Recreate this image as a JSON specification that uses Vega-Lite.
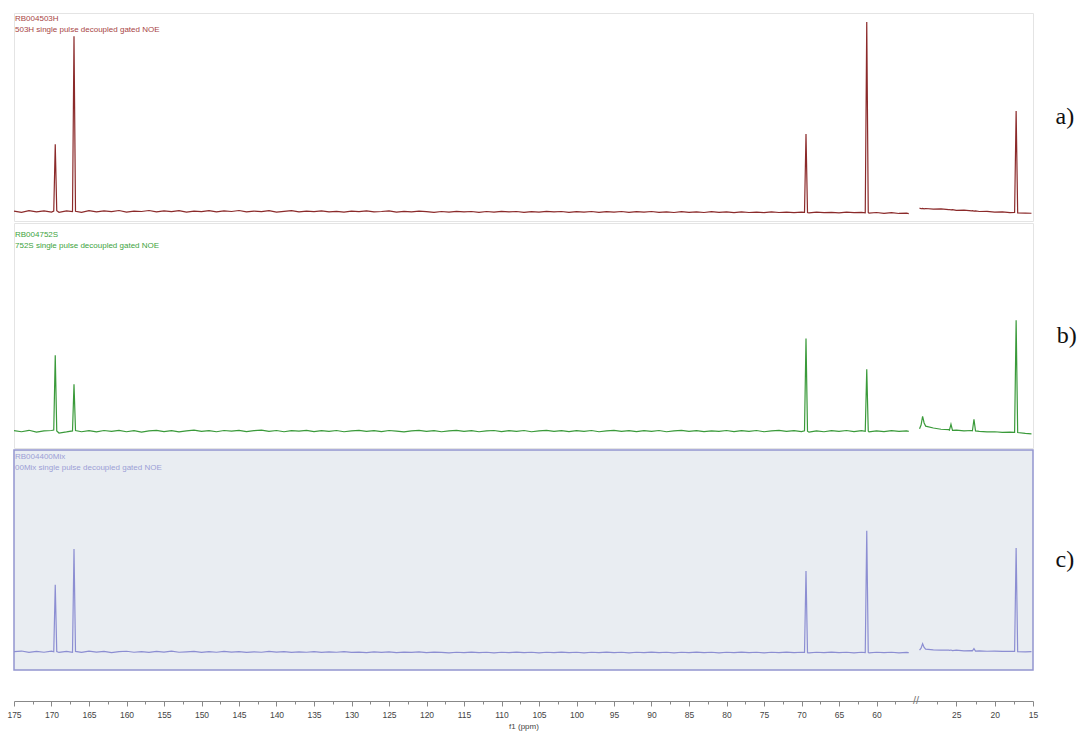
{
  "$schema": "https://vega.github.io/schema/vega-lite/v6.json",
  "background": "white",
  "padding": {"left": 6, "top": 12, "right": 2, "bottom": 2},
  "spacing": 0,
  "config": {"view": {"stroke": null}, "font": "Liberation Sans"},
  "datasets": {
    "nmr": [
      {"p":175,"a":0.0,"b":0.3,"c":0.1,"g":"L"},
      {"p":174,"a":-0.6,"b":-0.2,"c":0.4,"g":"L"},
      {"p":173,"a":0.2,"b":0.5,"c":-0.3,"g":"L"},
      {"p":172,"a":-0.4,"b":-0.4,"c":0.2,"g":"L"},
      {"p":171,"a":0.1,"b":0.2,"c":-0.2,"g":"L"},
      {"p":170,"a":-0.5,"b":0.4,"c":0.3,"g":"L"},
      {"p":169.7,"a":0.0,"b":0.6,"c":0.0,"g":"L"},
      {"p":169.5,"a":33.8,"b":36.5,"c":33.2,"g":"L"},
      {"p":169.3,"a":0.2,"b":0.2,"c":0.1,"g":"L"},
      {"p":169,"a":-0.6,"b":-0.8,"c":-0.3,"g":"L"},
      {"p":168,"a":0.1,"b":-0.3,"c":0.2,"g":"L"},
      {"p":167.2,"a":-0.3,"b":0.2,"c":-0.2,"g":"L"},
      {"p":167,"a":88.3,"b":22.6,"c":51.0,"g":"L"},
      {"p":166.8,"a":-0.1,"b":0.4,"c":0.2,"g":"L"},
      {"p":166,"a":-0.6,"b":-0.2,"c":-0.3,"g":"L"},
      {"p":165,"a":0.2,"b":0.3,"c":0.3,"g":"L"},
      {"p":164,"a":-0.4,"b":-0.3,"c":-0.1,"g":"L"},
      {"p":163,"a":0.1,"b":0.4,"c":0.2,"g":"L"},
      {"p":162,"a":-0.3,"b":0.0,"c":-0.4,"g":"L"},
      {"p":161,"a":0.3,"b":0.5,"c":0.1,"g":"L"},
      {"p":160,"a":-0.5,"b":-0.2,"c":0.3,"g":"L"},
      {"p":159,"a":0.0,"b":0.3,"c":-0.2,"g":"L"},
      {"p":158,"a":-0.2,"b":-0.4,"c":0.1,"g":"L"},
      {"p":157,"a":0.3,"b":0.2,"c":-0.3,"g":"L"},
      {"p":156,"a":-0.4,"b":0.5,"c":0.2,"g":"L"},
      {"p":155,"a":0.1,"b":-0.1,"c":-0.1,"g":"L"},
      {"p":154,"a":-0.3,"b":0.3,"c":0.3,"g":"L"},
      {"p":153,"a":0.2,"b":-0.3,"c":-0.2,"g":"L"},
      {"p":152,"a":-0.5,"b":0.2,"c":0.0,"g":"L"},
      {"p":151,"a":0.0,"b":0.6,"c":0.2,"g":"L"},
      {"p":150,"a":-0.3,"b":0.0,"c":-0.3,"g":"L"},
      {"p":149,"a":0.2,"b":0.3,"c":0.1,"g":"L"},
      {"p":148,"a":-0.4,"b":-0.2,"c":-0.2,"g":"L"},
      {"p":147,"a":0.1,"b":0.4,"c":0.2,"g":"L"},
      {"p":146,"a":-0.2,"b":0.1,"c":-0.1,"g":"L"},
      {"p":145,"a":0.3,"b":0.5,"c":0.1,"g":"L"},
      {"p":144,"a":-0.4,"b":-0.1,"c":-0.3,"g":"L"},
      {"p":143,"a":0.0,"b":0.3,"c":0.0,"g":"L"},
      {"p":142,"a":-0.3,"b":0.6,"c":-0.2,"g":"L"},
      {"p":141,"a":0.2,"b":0.0,"c":0.2,"g":"L"},
      {"p":140,"a":-0.5,"b":0.4,"c":-0.1,"g":"L"},
      {"p":139,"a":-0.1,"b":-0.2,"c":0.1,"g":"L"},
      {"p":138,"a":0.2,"b":0.3,"c":-0.3,"g":"L"},
      {"p":137,"a":-0.4,"b":0.1,"c":0.0,"g":"L"},
      {"p":136,"a":0.0,"b":0.5,"c":-0.2,"g":"L"},
      {"p":135,"a":-0.3,"b":-0.1,"c":0.1,"g":"L"},
      {"p":134,"a":0.1,"b":0.3,"c":-0.3,"g":"L"},
      {"p":133,"a":-0.4,"b":0.0,"c":0.0,"g":"L"},
      {"p":132,"a":-0.1,"b":0.4,"c":-0.2,"g":"L"},
      {"p":131,"a":-0.5,"b":-0.2,"c":0.1,"g":"L"},
      {"p":130,"a":0.0,"b":0.2,"c":-0.3,"g":"L"},
      {"p":129,"a":-0.3,"b":0.5,"c":-0.1,"g":"L"},
      {"p":128,"a":0.1,"b":0.0,"c":-0.4,"g":"L"},
      {"p":127,"a":-0.4,"b":0.3,"c":0.0,"g":"L"},
      {"p":126,"a":-0.2,"b":-0.1,"c":-0.3,"g":"L"},
      {"p":125,"a":0.1,"b":0.4,"c":0.0,"g":"L"},
      {"p":124,"a":-0.5,"b":0.1,"c":-0.4,"g":"L"},
      {"p":123,"a":-0.1,"b":-0.3,"c":-0.1,"g":"L"},
      {"p":122,"a":-0.4,"b":0.2,"c":-0.3,"g":"L"},
      {"p":121,"a":0.0,"b":0.5,"c":0.0,"g":"L"},
      {"p":120,"a":-0.3,"b":0.0,"c":-0.4,"g":"L"},
      {"p":119,"a":-0.6,"b":0.3,"c":-0.1,"g":"L"},
      {"p":118,"a":-0.2,"b":-0.2,"c":-0.3,"g":"L"},
      {"p":117,"a":-0.5,"b":0.2,"c":-0.5,"g":"L"},
      {"p":116,"a":-0.1,"b":0.5,"c":-0.2,"g":"L"},
      {"p":115,"a":-0.4,"b":0.0,"c":-0.4,"g":"L"},
      {"p":114,"a":-0.2,"b":0.3,"c":-0.1,"g":"L"},
      {"p":113,"a":-0.6,"b":-0.2,"c":-0.4,"g":"L"},
      {"p":112,"a":-0.2,"b":0.2,"c":-0.2,"g":"L"},
      {"p":111,"a":-0.5,"b":0.4,"c":-0.5,"g":"L"},
      {"p":110,"a":-0.1,"b":-0.1,"c":-0.2,"g":"L"},
      {"p":109,"a":-0.4,"b":0.3,"c":-0.4,"g":"L"},
      {"p":108,"a":-0.2,"b":0.0,"c":-0.1,"g":"L"},
      {"p":107,"a":-0.6,"b":0.4,"c":-0.4,"g":"L"},
      {"p":106,"a":-0.3,"b":-0.2,"c":-0.2,"g":"L"},
      {"p":105,"a":-0.5,"b":0.2,"c":-0.5,"g":"L"},
      {"p":104,"a":-0.1,"b":0.5,"c":-0.2,"g":"L"},
      {"p":103,"a":-0.4,"b":0.0,"c":-0.4,"g":"L"},
      {"p":102,"a":-0.2,"b":0.3,"c":-0.1,"g":"L"},
      {"p":101,"a":-0.6,"b":-0.1,"c":-0.4,"g":"L"},
      {"p":100,"a":-0.3,"b":0.3,"c":-0.2,"g":"L"},
      {"p":99,"a":-0.5,"b":0.0,"c":-0.5,"g":"L"},
      {"p":98,"a":-0.2,"b":0.4,"c":-0.2,"g":"L"},
      {"p":97,"a":-0.6,"b":-0.2,"c":-0.4,"g":"L"},
      {"p":96,"a":-0.3,"b":0.2,"c":-0.1,"g":"L"},
      {"p":95,"a":-0.5,"b":0.5,"c":-0.4,"g":"L"},
      {"p":94,"a":-0.2,"b":0.0,"c":-0.2,"g":"L"},
      {"p":93,"a":-0.6,"b":0.3,"c":-0.5,"g":"L"},
      {"p":92,"a":-0.3,"b":-0.1,"c":-0.2,"g":"L"},
      {"p":91,"a":-0.5,"b":0.3,"c":-0.4,"g":"L"},
      {"p":90,"a":-0.2,"b":0.0,"c":-0.1,"g":"L"},
      {"p":89,"a":-0.6,"b":0.4,"c":-0.4,"g":"L"},
      {"p":88,"a":-0.4,"b":-0.2,"c":-0.2,"g":"L"},
      {"p":87,"a":-0.7,"b":0.2,"c":-0.5,"g":"L"},
      {"p":86,"a":-0.3,"b":0.5,"c":-0.2,"g":"L"},
      {"p":85,"a":-0.6,"b":0.0,"c":-0.4,"g":"L"},
      {"p":84,"a":-0.4,"b":0.3,"c":-0.1,"g":"L"},
      {"p":83,"a":-0.7,"b":-0.1,"c":-0.4,"g":"L"},
      {"p":82,"a":-0.3,"b":0.2,"c":-0.2,"g":"L"},
      {"p":81,"a":-0.6,"b":0.0,"c":-0.5,"g":"L"},
      {"p":80,"a":-0.4,"b":0.4,"c":-0.2,"g":"L"},
      {"p":79,"a":-0.8,"b":-0.1,"c":-0.4,"g":"L"},
      {"p":78,"a":-0.4,"b":0.3,"c":-0.1,"g":"L"},
      {"p":77,"a":-0.7,"b":0.0,"c":-0.4,"g":"L"},
      {"p":76,"a":-0.5,"b":0.4,"c":-0.2,"g":"L"},
      {"p":75,"a":-0.8,"b":-0.2,"c":-0.5,"g":"L"},
      {"p":74,"a":-0.4,"b":0.2,"c":-0.2,"g":"L"},
      {"p":73,"a":-0.7,"b":0.5,"c":-0.4,"g":"L"},
      {"p":72,"a":-0.5,"b":0.0,"c":-0.1,"g":"L"},
      {"p":71,"a":-0.8,"b":0.3,"c":-0.4,"g":"L"},
      {"p":70,"a":-0.5,"b":-0.1,"c":-0.2,"g":"L"},
      {"p":69.6,"a":-0.6,"b":0.3,"c":-0.3,"g":"L"},
      {"p":69.4,"a":38.9,"b":44.6,"c":40.0,"g":"L"},
      {"p":69.2,"a":-0.7,"b":0.1,"c":-0.4,"g":"L"},
      {"p":69,"a":-0.9,"b":-0.4,"c":-0.5,"g":"L"},
      {"p":68,"a":-0.5,"b":0.2,"c":-0.2,"g":"L"},
      {"p":67,"a":-0.8,"b":-0.2,"c":-0.4,"g":"L"},
      {"p":66,"a":-0.6,"b":0.3,"c":-0.1,"g":"L"},
      {"p":65,"a":-0.9,"b":0.0,"c":-0.4,"g":"L"},
      {"p":64,"a":-0.5,"b":0.4,"c":-0.2,"g":"L"},
      {"p":63,"a":-0.8,"b":-0.1,"c":-0.5,"g":"L"},
      {"p":62,"a":-0.6,"b":0.3,"c":-0.2,"g":"L"},
      {"p":61.5,"a":-0.9,"b":0.0,"c":-0.4,"g":"L"},
      {"p":61.3,"a":95.4,"b":29.8,"c":60.0,"g":"L"},
      {"p":61.1,"a":-0.7,"b":0.1,"c":-0.3,"g":"L"},
      {"p":61,"a":-1.0,"b":-0.3,"c":-0.5,"g":"L"},
      {"p":60,"a":-0.7,"b":0.2,"c":-0.2,"g":"L"},
      {"p":59,"a":-1.1,"b":-0.1,"c":-0.4,"g":"L"},
      {"p":58,"a":-0.8,"b":0.3,"c":-0.2,"g":"L"},
      {"p":57,"a":-1.2,"b":0.0,"c":-0.5,"g":"L"},
      {"p":56,"a":-1.0,"b":0.2,"c":-0.3,"g":"L"},
      {"p":55.7,"a":-1.3,"b":0.0,"c":-0.4,"g":"L"},
      {"p":29.8,"a":1.5,"b":1.2,"c":0.8,"g":"R"},
      {"p":29.6,"a":1.2,"b":3.0,"c":1.8,"g":"R"},
      {"p":29.4,"a":1.4,"b":7.2,"c":4.0,"g":"R"},
      {"p":29.2,"a":1.1,"b":4.0,"c":2.2,"g":"R"},
      {"p":29,"a":1.3,"b":2.5,"c":1.3,"g":"R"},
      {"p":28,"a":1.0,"b":1.6,"c":1.0,"g":"R"},
      {"p":27,"a":1.1,"b":1.0,"c":0.8,"g":"R"},
      {"p":26,"a":0.7,"b":0.8,"c":0.9,"g":"R"},
      {"p":25.9,"a":0.8,"b":0.6,"c":0.7,"g":"R"},
      {"p":25.7,"a":0.6,"b":3.4,"c":0.9,"g":"R"},
      {"p":25.5,"a":0.7,"b":0.5,"c":0.6,"g":"R"},
      {"p":25,"a":0.4,"b":0.6,"c":0.8,"g":"R"},
      {"p":24,"a":0.5,"b":0.2,"c":0.5,"g":"R"},
      {"p":23,"a":0.1,"b":0.4,"c":0.6,"g":"R"},
      {"p":22.9,"a":0.2,"b":0.3,"c":0.5,"g":"R"},
      {"p":22.7,"a":0.0,"b":5.8,"c":1.6,"g":"R"},
      {"p":22.5,"a":0.1,"b":0.2,"c":0.4,"g":"R"},
      {"p":22,"a":-0.2,"b":0.0,"c":0.5,"g":"R"},
      {"p":21,"a":-0.1,"b":-0.3,"c":0.3,"g":"R"},
      {"p":20,"a":-0.5,"b":-0.2,"c":0.4,"g":"R"},
      {"p":19,"a":-0.4,"b":-0.5,"c":0.2,"g":"R"},
      {"p":18,"a":-0.8,"b":-0.4,"c":0.3,"g":"R"},
      {"p":17.4,"a":-0.7,"b":-0.5,"c":0.2,"g":"R"},
      {"p":17.2,"a":50.5,"b":53.3,"c":51.5,"g":"R"},
      {"p":17,"a":-0.9,"b":-0.6,"c":0.1,"g":"R"},
      {"p":16,"a":-1.0,"b":-1.0,"c":0.0,"g":"R"},
      {"p":15.2,"a":-1.1,"b":-1.2,"c":0.1,"g":"R"}
    ]
  },
  "data": {"name": "nmr"},
  "vconcat": [
    {
      "width": 1019,
      "height": 208,
      "view": {"stroke": "#e4e4e4", "strokeWidth": 1},
      "title": {"text": "a)", "orient": "right", "angle": 0, "anchor": "middle", "align": "left", "baseline": "middle", "font": "Liberation Serif", "fontSize": 24, "fontWeight": "normal", "color": "#111111", "offset": 3},
      "layer": [
        {
          "mark": {"type": "line", "color": "#8b2a2a", "strokeWidth": 1.2},
          "encoding": {
            "x": {"field": "p", "type": "quantitative", "scale": {"domain": [175, 55, 30, 15], "range": [0, 900, 904, 1019], "nice": false, "zero": false}, "axis": null},
            "y": {"field": "a", "type": "quantitative", "scale": {"domain": [-5, 100], "nice": false, "zero": false}, "axis": null},
            "detail": {"field": "g"}
          }
        },
        {
          "data": {"values": [{}]},
          "mark": {"type": "text", "text": ["RB004503H", "503H single pulse decoupled gated NOE"], "align": "left", "baseline": "top", "fontSize": 8, "lineHeight": 11, "color": "#a84545", "dx": 1, "dy": 2},
          "encoding": {
            "x": {"datum": 175, "type": "quantitative"},
            "y": {"datum": 100, "type": "quantitative"}
          }
        }
      ]
    },
    {
      "width": 1019,
      "height": 225,
      "view": {"stroke": "#e4e4e4", "strokeWidth": 1},
      "title": {"text": "b)", "orient": "right", "angle": 0, "anchor": "middle", "align": "left", "baseline": "middle", "font": "Liberation Serif", "fontSize": 24, "fontWeight": "normal", "color": "#111111", "offset": 3},
      "layer": [
        {
          "mark": {"type": "line", "color": "#3a9a3a", "strokeWidth": 1.2},
          "encoding": {
            "x": {"field": "p", "type": "quantitative", "scale": {"domain": [175, 55, 30, 15], "range": [0, 900, 904, 1019], "nice": false, "zero": false}, "axis": null},
            "y": {"field": "b", "type": "quantitative", "scale": {"domain": [-8, 100], "nice": false, "zero": false}, "axis": null},
            "detail": {"field": "g"}
          }
        },
        {
          "data": {"values": [{}]},
          "mark": {"type": "text", "text": ["RB004752S", "752S single pulse decoupled gated NOE"], "align": "left", "baseline": "top", "fontSize": 8, "lineHeight": 11, "color": "#3da33d", "dx": 1, "dy": 8},
          "encoding": {
            "x": {"datum": 175, "type": "quantitative"},
            "y": {"datum": 100, "type": "quantitative"}
          }
        }
      ]
    },
    {
      "width": 1019,
      "height": 220,
      "view": {"fill": "#e9edf2", "stroke": "#9395cf", "strokeWidth": 1.5},
      "title": {"text": "c)", "orient": "right", "angle": 0, "anchor": "middle", "align": "left", "baseline": "middle", "font": "Liberation Serif", "fontSize": 24, "fontWeight": "normal", "color": "#111111", "offset": 3},
      "layer": [
        {
          "mark": {"type": "line", "color": "#8c8ed2", "strokeWidth": 1.2},
          "encoding": {
            "x": {"field": "p", "type": "quantitative", "scale": {"domain": [175, 55, 30, 15], "range": [0, 900, 904, 1019], "nice": false, "zero": false}, "axis": null},
            "y": {"field": "c", "type": "quantitative", "scale": {"domain": [-9, 100], "nice": false, "zero": false}, "axis": null},
            "detail": {"field": "g"}
          }
        },
        {
          "data": {"values": [{}]},
          "mark": {"type": "text", "text": ["RB004400Mix", "00Mix single pulse decoupled gated NOE"], "align": "left", "baseline": "top", "fontSize": 8, "lineHeight": 11, "color": "#9c9fd6", "dx": 1, "dy": 3},
          "encoding": {
            "x": {"datum": 175, "type": "quantitative"},
            "y": {"datum": 100, "type": "quantitative"}
          }
        }
      ]
    },
    {
      "width": 1019,
      "height": 30,
      "data": {"values": [{}]},
      "mark": {"type": "text", "text": "//", "fontSize": 11, "color": "#777777", "baseline": "middle", "align": "center"},
      "encoding": {
        "x": {
          "datum": 42.5,
          "type": "quantitative",
          "scale": {"domain": [175, 55, 30, 15], "range": [0, 900, 904, 1019], "nice": false, "zero": false},
          "axis": {
            "values": [175, 172.5, 170, 167.5, 165, 162.5, 160, 157.5, 155, 152.5, 150, 147.5, 145, 142.5, 140, 137.5, 135, 132.5, 130, 127.5, 125, 122.5, 120, 117.5, 115, 112.5, 110, 107.5, 105, 102.5, 100, 97.5, 95, 92.5, 90, 87.5, 85, 82.5, 80, 77.5, 75, 72.5, 70, 67.5, 65, 62.5, 60, 57.5, 27.5, 25, 22.5, 20, 17.5, 15],
            "format": "d",
            "labelExpr": "datum.value % 5 == 0 ? datum.label : ''",
            "labelFont": "Liberation Sans",
            "labelFontSize": 8.5,
            "labelColor": "#444444",
            "labelPadding": 4,
            "labelFlush": false,
            "labelOverlap": false,
            "domainColor": "#888888",
            "tickColor": "#888888",
            "tickSize": {"condition": {"test": "datum.value % 5 == 0", "value": 5}, "value": 3},
            "grid": false,
            "title": "f1 (ppm)",
            "titleFont": "Liberation Sans",
            "titleFontSize": 8,
            "titleFontWeight": "normal",
            "titleColor": "#444444",
            "titlePadding": 4
          }
        },
        "y": {"datum": 0, "type": "quantitative", "scale": {"domain": [0, 1]}, "axis": null}
      }
    }
  ]
}
